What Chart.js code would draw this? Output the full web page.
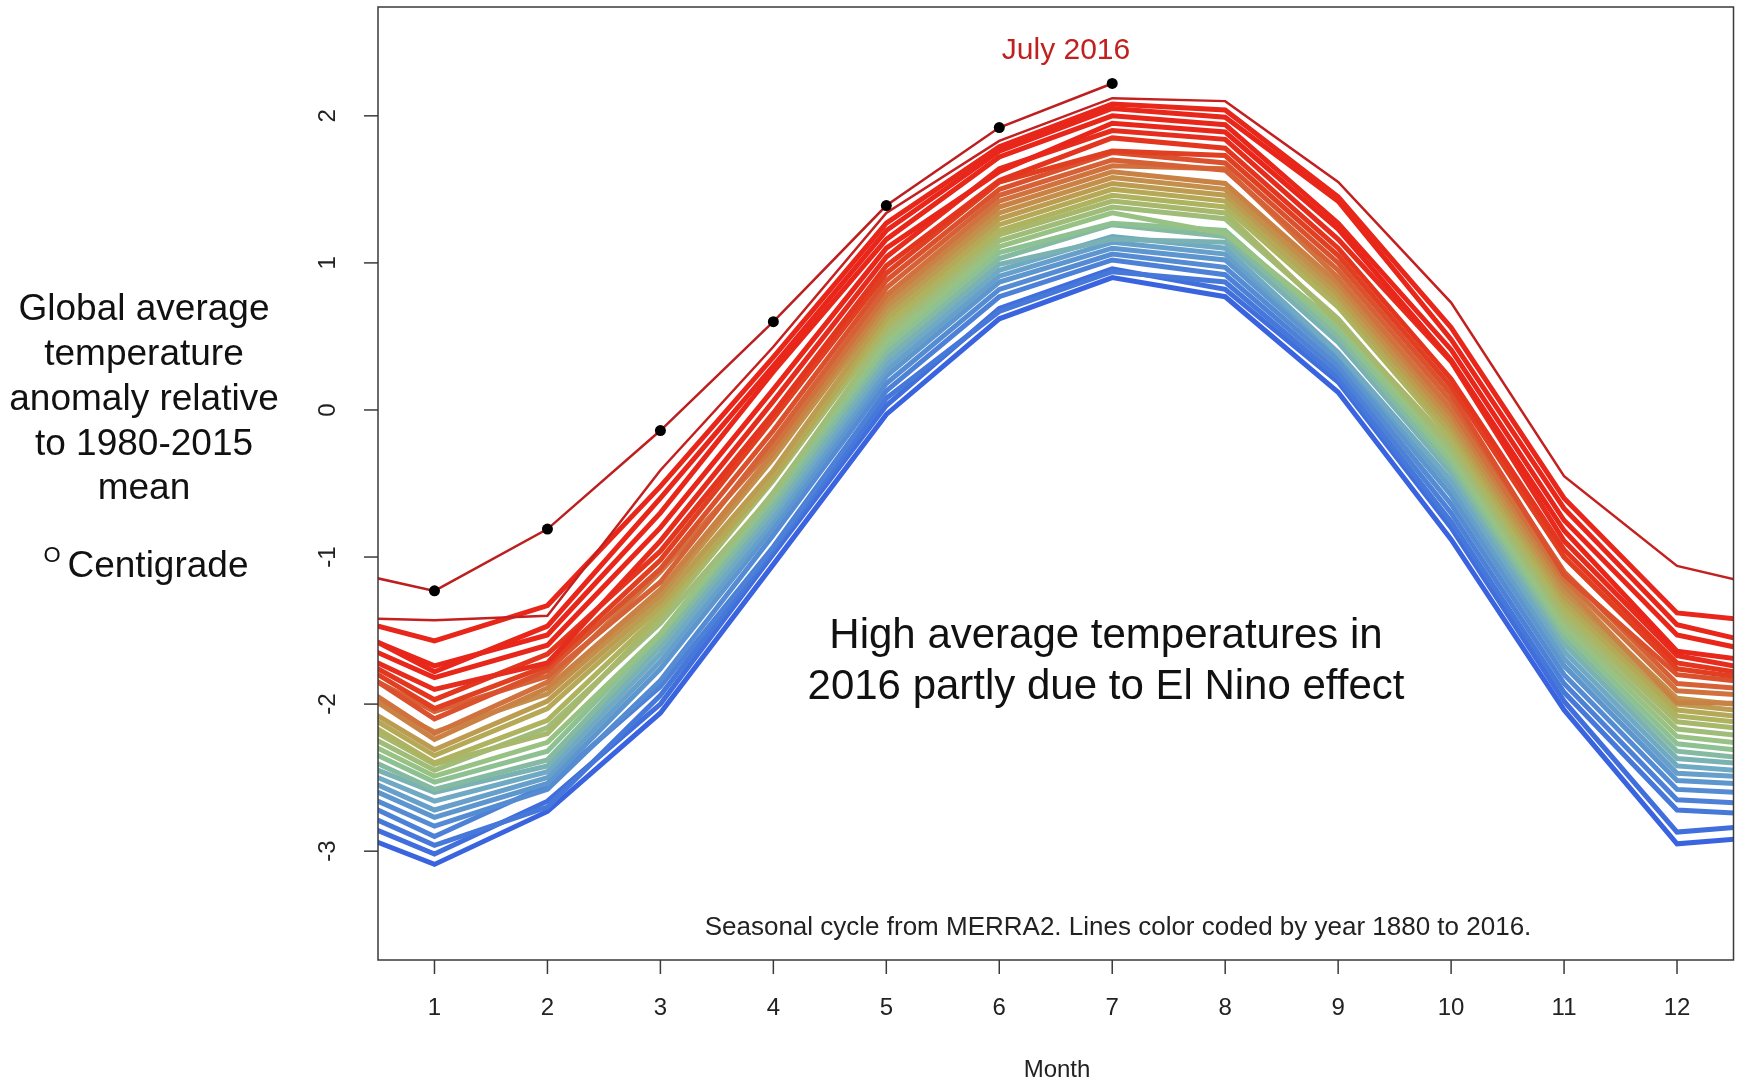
<!DOCTYPE html>
<html>
<head>
<meta charset="utf-8">
<title>Seasonal cycle from MERRA2</title>
<script src="https://cdn.jsdelivr.net/npm/chart.js@4.4.1/dist/chart.umd.min.js"></script>
<style>
  html, body { margin: 0; padding: 0; background: #ffffff; }
  #wrap { width: 1739px; height: 1085px; }
  canvas { display: block; }
</style>
</head>
<body>
<div id="wrap"><canvas id="seasonChart" width="1739" height="1085"></canvas></div>
<script>

// ======================
// DATA
// slot 0 = previous December, slots 1-12 = Jan..Dec, slot 13 = next January
// ======================

const monthSlots = [0, 1, 2, 3, 4, 5, 6, 7, 8, 9, 10, 11, 12, 13];
const xTicks = [1, 2, 3, 4, 5, 6, 7, 8, 9, 10, 11, 12];
const yTicks = [-3, -2, -1, 0, 1, 2];

// oldest years first (blue) ... newest years last (red)
const blueYears = [
    [-2.79, -3.09, -2.73, -2.06, -1.05, -0.03, 0.62, 0.90, 0.77, 0.12, -0.88, -2.04, -2.95, -2.89],
    [-2.70, -3.02, -2.66, -2.00, -0.98, 0.03, 0.69, 0.96, 0.82, 0.19, -0.80, -1.98, -2.87, -2.81],
    [-2.62, -2.96, -2.70, -1.94, -0.95, 0.08, 0.67, 0.94, 0.87, 0.22, -0.76, -1.92, -2.72, -2.76],
    [-2.54, -2.90, -2.55, -1.88, -0.93, 0.13, 0.77, 1.02, 0.92, 0.26, -0.70, -1.86, -2.65, -2.69],
    [-2.49, -2.83, -2.58, -1.84, -0.85, 0.18, 0.82, 1.06, 0.97, 0.30, -0.64, -1.80, -2.58, -2.62],
    [-2.43, -2.77, -2.54, -1.76, -0.80, 0.23, 0.87, 1.10, 1.02, 0.34, -0.58, -1.74, -2.52, -2.56]
];

const tealYears = [
    [-2.38, -2.72, -2.50, -1.71, -0.76, 0.27, 0.91, 1.14, 1.06, 0.38, -0.53, -1.69, -2.47, -2.51],
    [-2.34, -2.66, -2.46, -1.66, -0.72, 0.31, 0.95, 1.18, 1.10, 0.39, -0.48, -1.64, -2.42, -2.48],
    [-2.30, -2.60, -2.42, -1.61, -0.68, 0.35, 0.99, 1.16, 1.14, 0.46, -0.43, -1.59, -2.37, -2.43]
];

const greenYears = [
    [-2.23, -2.58, -2.38, -1.57, -0.64, 0.39, 1.03, 1.26, 1.18, 0.50, -0.39, -1.55, -2.32, -2.40],
    [-2.17, -2.53, -2.32, -1.53, -0.60, 0.43, 1.07, 1.27, 1.22, 0.54, -0.35, -1.51, -2.27, -2.35],
    [-2.11, -2.49, -2.26, -1.52, -0.56, 0.47, 1.11, 1.34, 1.20, 0.58, -0.31, -1.47, -2.22, -2.30],
    [-2.05, -2.45, -2.16, -1.45, -0.57, 0.51, 1.15, 1.38, 1.30, 0.62, -0.27, -1.43, -2.17, -2.25],
    [-1.99, -2.41, -2.20, -1.41, -0.48, 0.55, 1.19, 1.42, 1.34, 0.60, -0.23, -1.39, -2.12, -2.20]
];

const oliveYears = [
    [-1.94, -2.40, -2.11, -1.38, -0.45, 0.58, 1.22, 1.46, 1.38, 0.70, -0.19, -1.35, -2.08, -2.16],
    [-1.89, -2.35, -2.03, -1.34, -0.46, 0.62, 1.26, 1.50, 1.42, 0.74, -0.15, -1.31, -2.04, -2.12],
    [-1.85, -2.31, -1.98, -1.30, -0.41, 0.66, 1.30, 1.54, 1.46, 0.78, -0.11, -1.27, -2.00, -2.08],
    [-1.79, -2.19, -1.93, -1.26, -0.33, 0.70, 1.34, 1.58, 1.50, 0.82, -0.07, -1.23, -1.96, -2.04],
    [-1.74, -2.24, -1.89, -1.22, -0.29, 0.74, 1.38, 1.62, 1.54, 0.86, -0.03, -1.19, -1.99, -2.00]
];

const orangeYears = [
    [-1.70, -2.20, -1.85, -1.10, -0.25, 0.78, 1.42, 1.66, 1.64, 0.90, 0.01, -1.15, -1.91, -1.96],
    [-1.65, -2.05, -1.81, -1.17, -0.20, 0.83, 1.46, 1.70, 1.63, 0.95, 0.06, -1.10, -1.86, -1.92],
    [-1.60, -2.10, -1.77, -1.08, -0.14, 0.88, 1.50, 1.75, 1.68, 1.00, 0.11, -1.12, -1.80, -1.88],
    [-1.57, -2.03, -1.74, -1.02, -0.06, 0.93, 1.55, 1.76, 1.73, 1.05, 0.16, -1.00, -1.76, -1.86],
    [-1.55, -1.97, -1.66, -0.96, -0.02, 0.98, 1.56, 1.85, 1.78, 1.10, 0.21, -0.95, -1.72, -1.84]
];

const redYears = [
    [-1.54, -1.90, -1.72, -0.89, 0.06, 1.04, 1.64, 1.90, 1.84, 1.16, 0.33, -0.89, -1.67, -1.81],
    [-1.48, -1.82, -1.60, -0.80, 0.14, 1.10, 1.62, 1.95, 1.89, 1.23, 0.34, -0.82, -1.64, -1.74],
    [-1.42, -1.74, -1.53, -0.70, 0.26, 1.16, 1.72, 2.00, 1.94, 1.27, 0.41, -0.75, -1.53, -1.69],
    [-1.38, -1.78, -1.47, -0.60, 0.30, 1.22, 1.76, 2.05, 1.99, 1.42, 0.48, -0.67, -1.46, -1.64],
    [-1.37, -1.57, -1.33, -0.52, 0.36, 1.27, 1.79, 2.08, 2.04, 1.45, 0.56, -0.60, -1.38, -1.46],
    [-1.41, -1.43, -1.40, -0.41, 0.43, 1.34, 1.83, 2.12, 2.10, 1.55, 0.73, -0.45, -1.06, -1.24]
];

// Dec 2015 then Jan..Jul 2016
const year2016 = [-1.06, -1.23, -0.81, -0.14, 0.60, 1.39, 1.92, 2.22];


// ======================
// COLOURS
// ======================

const rampStops = [
    [0.00, [58, 100, 223]],
    [0.12, [79, 134, 214]],
    [0.24, [111, 169, 196]],
    [0.36, [147, 197, 138]],
    [0.50, [178, 176, 90]],
    [0.60, [198, 138, 72]],
    [0.68, [212, 102, 58]],
    [0.76, [225, 62, 34]],
    [0.85, [232, 38, 26]],
    [1.00, [232, 38, 26]]
];

function rampColor(t) {
    for (let i = 1; i < rampStops.length; i++) {
        const [p1, c1] = rampStops[i];
        const [p0, c0] = rampStops[i - 1];
        if (t <= p1) {
            const f = (t - p0) / (p1 - p0);
            const c = c0.map((v, k) => Math.round(v + (c1[k] - v) * f));
            return `rgb(${c[0]},${c[1]},${c[2]})`;
        }
    }
    return "rgb(232,38,26)";
}


// ======================
// DATASETS
// ======================

const allYears = [
    ...blueYears, ...tealYears, ...greenYears,
    ...oliveYears, ...orangeYears, ...redYears
];

const lastIndex = allYears.length - 1;

const yearSets = allYears.map((row, i) => ({
    data: row.map((v, k) => ({ x: monthSlots[k], y: v })),
    borderColor: i === lastIndex ? "#c42020" : rampColor(i / lastIndex),
    borderWidth: i === lastIndex ? 2.5 : 5,
    pointRadius: 0,
    tension: 0,
    clip: 0
}));

const set2016 = {
    data: year2016.map((v, k) => ({ x: monthSlots[k], y: v })),
    borderColor: "#bd1f1f",
    borderWidth: 2.5,
    pointRadius: ctx => (ctx.raw && ctx.raw.x >= 1 ? 5.5 : 0),
    pointBackgroundColor: "#000000",
    pointBorderColor: "#000000",
    pointBorderWidth: 0,
    tension: 0,
    clip: 0
};

// first dataset is drawn last, so 2016 then newest years sit on top
const datasets = [set2016, ...yearSets.slice().reverse()];


// ======================
// FRAME, TICKS AND TEXT
// ======================

const FONT = "'Liberation Sans', Arial, Helvetica, sans-serif";

const frameAndText = {
    id: "frameAndText",
    afterDatasetsDraw(chart) {
        const ctx = chart.ctx;
        const area = chart.chartArea;
        const xs = chart.scales.x;
        const ys = chart.scales.y;

        ctx.save();

        // plot box
        ctx.strokeStyle = "#3a3a3a";
        ctx.lineWidth = 1.5;
        ctx.strokeRect(area.left, area.top, area.right - area.left, area.bottom - area.top);

        ctx.fillStyle = "#222222";
        ctx.textAlign = "center";
        ctx.textBaseline = "middle";
        ctx.font = "24px " + FONT;

        // x axis
        xTicks.forEach(v => {
            const px = xs.getPixelForValue(v);
            ctx.beginPath();
            ctx.moveTo(px, area.bottom);
            ctx.lineTo(px, area.bottom + 14);
            ctx.stroke();
            ctx.fillText(String(v), px, 1008);
        });
        ctx.fillText("Month", 1057, 1070);

        // y axis, labels turned like R does
        yTicks.forEach(v => {
            const py = ys.getPixelForValue(v);
            ctx.beginPath();
            ctx.moveTo(area.left - 14, py);
            ctx.lineTo(area.left, py);
            ctx.stroke();
            ctx.save();
            ctx.translate(328, py);
            ctx.rotate(-Math.PI / 2);
            ctx.fillText(String(v), 0, 0);
            ctx.restore();
        });

        // caption inside the plot
        ctx.font = "26px " + FONT;
        ctx.fillText("Seasonal cycle from MERRA2. Lines color coded by year 1880 to 2016.", 1118, 928);

        // July 2016 label
        ctx.fillStyle = "#c0201e";
        ctx.font = "30px " + FONT;
        ctx.fillText("July 2016", 1066, 51);

        // El Nino note
        ctx.fillStyle = "#111111";
        ctx.font = "42px " + FONT;
        ctx.fillText("High average temperatures in", 1106, 636);
        ctx.fillText("2016 partly due to El Nino effect", 1106, 687);

        // y axis title on the left
        ctx.font = "37px " + FONT;
        const titleLines = ["Global average", "temperature", "anomaly relative", "to 1980-2015", "mean"];
        titleLines.forEach((t, i) => ctx.fillText(t, 144, 310 + i * 44.8));
        ctx.fillText("Centigrade", 158, 567);
        ctx.font = "22px " + FONT;
        ctx.fillText("O", 52, 556);

        ctx.restore();
    }
};


// ======================
// CHART
// ======================

new Chart(
    document.getElementById("seasonChart"),
    {
        type: "line",
        data: { datasets: datasets },
        options: {
            responsive: false,
            animation: false,
            devicePixelRatio: 1,
            layout: {
                padding: { left: 378, right: 3, top: 7, bottom: 125 }
            },
            plugins: {
                legend: { display: false },
                tooltip: { enabled: false }
            },
            scales: {
                x: { type: "linear", min: 0.5, max: 12.5, display: false },
                y: { type: "linear", min: -3.74, max: 2.74, display: false }
            }
        },
        plugins: [frameAndText]
    }
);

</script>
</body>
</html>
